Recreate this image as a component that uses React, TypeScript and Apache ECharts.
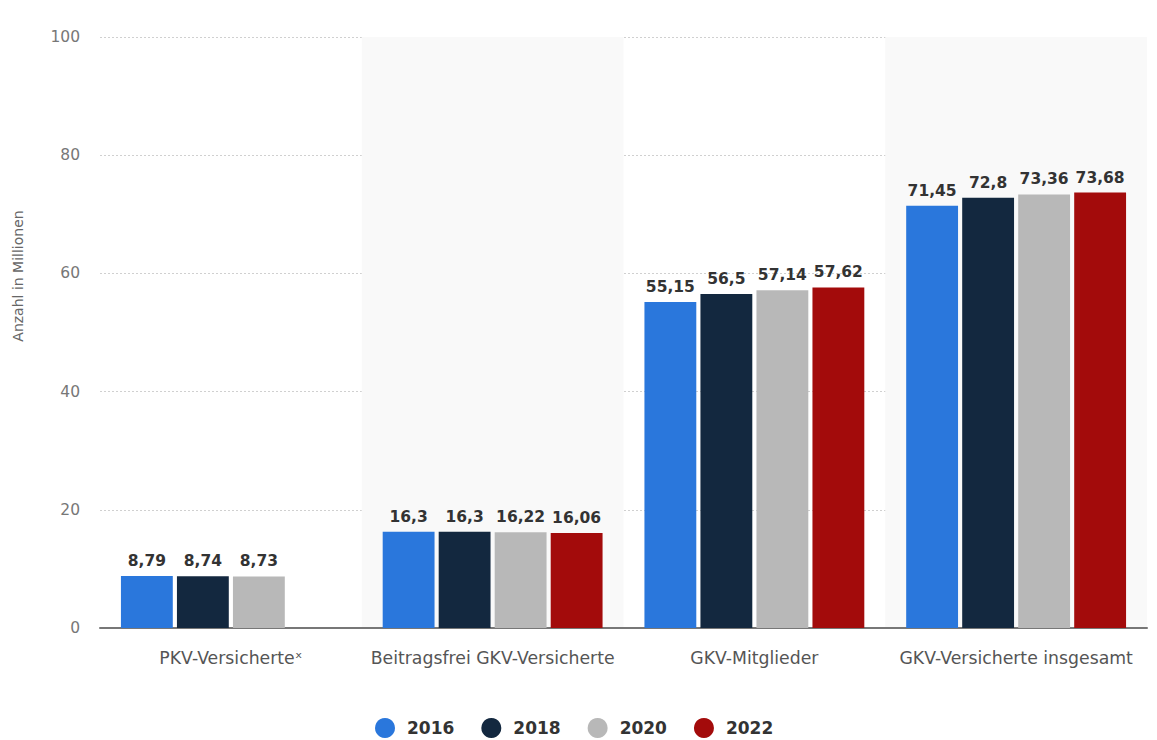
import React, { useEffect, useRef } from "react";
import * as echarts from "echarts";

const categories = [
  "PKV-Versicherte*",
  "Beitragsfrei GKV-Versicherte",
  "GKV-Mitglieder",
  "GKV-Versicherte insgesamt",
];
const seriesNames = ["2016", "2018", "2020", "2022"];
const values2016 = [8.79, 16.3, 55.15, 71.45];
const values2018 = [8.74, 16.3, 56.5, 72.8];
const values2020 = [8.73, 16.22, 57.14, 73.36];
const values2022 = [null, 16.06, 57.62, 73.68];
const colors = ["#2a77dc", "#13283f", "#b8b8b8", "#a30b0b"];
const yTicks = { min: 0, max: 100, interval: 20 };

const font = "'DejaVu Sans', sans-serif";

export default function App() {
  const ref = useRef<HTMLDivElement>(null);
  useEffect(() => {
    document.body.style.margin = "0";
    const chart = echarts.init(ref.current!, null, { renderer: "svg" });
    const all = [values2016, values2018, values2020, values2022];
    chart.setOption({
      animation: false,
      textStyle: { fontFamily: font },
      grid: { left: 100, right: 10, top: 37, bottom: 112, containLabel: false },
      legend: {
        top: 718,
        left: 375,
        padding: 0,
        icon: "circle",
        itemWidth: 20,
        itemHeight: 20,
        itemGap: 27,
        textStyle: {
          fontSize: 17,
          fontWeight: "bold",
          color: "#333",
          fontFamily: font,
          padding: [0, 0, 0, 7],
        },
        data: seriesNames,
      },
      xAxis: {
        type: "category",
        data: categories,
        axisLine: { lineStyle: { color: "#777", width: 2 } },
        axisTick: { show: false },
        axisLabel: {
          interval: 0,
          color: "#555",
          fontSize: 17.3,
          margin: 21,
          fontFamily: font,
          formatter: (v: string) => v.replace("*", "ˣ"),
        },
        splitArea: {
          show: true,
          interval: 0,
          areaStyle: { color: ["rgba(255,255,255,0)", "#f9f9f9"] },
        },
      },
      yAxis: {
        type: "value",
        min: yTicks.min,
        max: yTicks.max,
        interval: yTicks.interval,
        axisLine: { show: false },
        axisTick: { show: false },
        axisLabel: { color: "#777", fontSize: 15.5, margin: 20, fontFamily: font },
        splitLine: { lineStyle: { color: "#d0d0d0", type: [2, 2], width: 1 } },
      },
      graphic: [
        {
          type: "text",
          x: 18,
          y: 276,
          rotation: Math.PI / 2,
          style: {
            text: "Anzahl in Millionen",
            fill: "#666",
            fontSize: 14,
            fontFamily: font,
            align: "center",
            verticalAlign: "middle",
          },
        },
      ],
      series: seriesNames.map((name, i) => ({
        name,
        type: "bar",
        data: all[i],
        barGap: "8%",
        barCategoryGap: "16%",
        itemStyle: { color: colors[i] },
        label: {
          show: true,
          position: "top",
          distance: 7,
          color: "#333",
          fontSize: 15.5,
          fontWeight: "bold",
          fontFamily: font,
          formatter: (p: any) => String(p.value).replace(".", ","),
        },
      })),
    });
    return () => chart.dispose();
  }, []);
  return <div ref={ref} style={{ width: 1157, height: 740 }} />;
}
